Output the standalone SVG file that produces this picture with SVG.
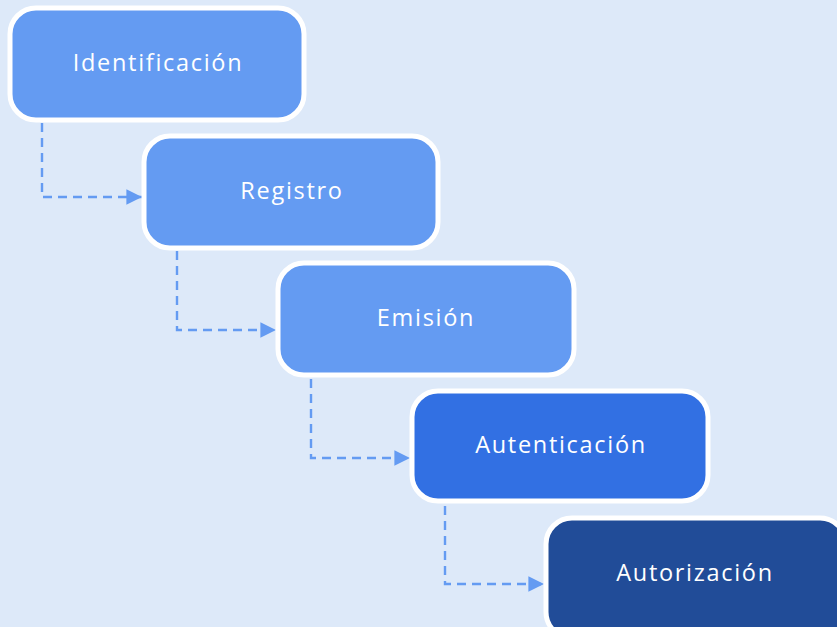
<svg xmlns="http://www.w3.org/2000/svg" width="837" height="627" viewBox="0 0 837 627">
<style>
.box{stroke:#ffffff;stroke-width:5}
.l{fill:#649bf2}
.m{fill:#3270e3}
.d{fill:#214c98}
.t{font-family:"Open Sans","Noto Sans",sans-serif;font-size:23.5px;fill:#ffffff;text-anchor:middle;dominant-baseline:central;letter-spacing:1.7px}
.c{fill:none;stroke:#649bf2;stroke-width:2.4;stroke-dasharray:9,6}
</style>
<defs>
<marker id="ah" viewBox="0 0 10 10" refX="10" refY="5" markerWidth="6.5" markerHeight="6.5" markerUnits="strokeWidth" orient="auto">
<path d="M0,0 L10,5 L0,10 z" fill="#649bf2"/>
</marker>
</defs>
<rect width="837" height="627" fill="#dde9f9"/>
<g id="connectors">
<path class="c" d="M42,123 V197 H142" marker-end="url(#ah)"/>
<path class="c" d="M177,251 V330 H276" marker-end="url(#ah)"/>
<path class="c" d="M311,379 V458 H410" marker-end="url(#ah)"/>
<path class="c" d="M445,506 V584 H544" marker-end="url(#ah)"/>
</g>
<g id="identificacion">
<rect class="box l" x="10" y="8" width="294" height="112" rx="26"/>
<text class="t" x="158" y="62">Identificación</text>
</g>
<g id="registro">
<rect class="box l" x="144" y="136" width="294" height="112" rx="26"/>
<text class="t" x="292" y="190">Registro</text>
</g>
<g id="emision">
<rect class="box l" x="278" y="263" width="296" height="112" rx="26"/>
<text class="t" x="426" y="317">Emisión</text>
</g>
<g id="autenticacion">
<rect class="box m" x="412" y="391" width="296" height="110" rx="26"/>
<text class="t" x="561" y="444">Autenticación</text>
</g>
<g id="autorizacion">
<rect class="box d" x="546" y="518" width="300" height="120" rx="26"/>
<text class="t" x="695" y="572">Autorización</text>
</g>
</svg>
